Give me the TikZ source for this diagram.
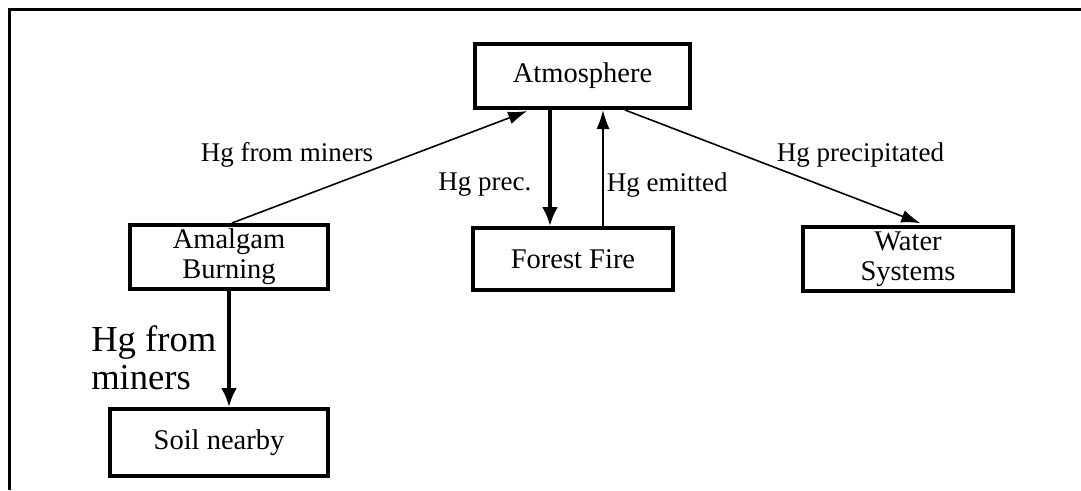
\documentclass[tikz,border=0pt]{standalone}
\usepackage{fontspec}
\setmainfont{Liberation Serif}
\usetikzlibrary{arrows.meta}

\begin{document}
\begin{tikzpicture}[x=1pt, y=-1pt, thick,
    main/.style = {draw, rectangle, line width=4pt, inner sep=0pt, align=center,
                   font=\fontsize{28.5}{30}\selectfont},
    flow/.style = {line width=1.6pt, -{Latex[length=19pt,width=13pt]}},
    heavy/.style = {line width=3.4pt, -{Latex[length=19pt,width=16pt]}},
    lab/.style = {font=\fontsize{27}{28}\selectfont, inner sep=1pt}]
        \useasboundingbox (0,0) rectangle (1081,490);
        \draw[line width=3pt] (1081,9.5) -- (9.7,9.5) -- (9.7,490);

        \node[main, minimum width=215pt, minimum height=64pt] (atm) at (582.5,76) {Atmosphere};
        \node[main, minimum width=200pt, minimum height=62pt] (fire) at (573,259) {Forest Fire};
        \node[main, minimum width=198pt, minimum height=64pt] (amal) at (229,257) {Amalgam\\Burning};
        \node[main, minimum width=210pt, minimum height=64pt] (water) at (908,259) {Water\\Systems};
        \node[main, minimum width=218pt, minimum height=67pt] (soil) at (219,442.5) {Soil nearby};

        \draw[flow, shorten >=3pt] ([xshift=3pt]amal.north) -- ([xshift=-52.5pt]atm.south)
            node [lab, pos=0.48, anchor=south east] {Hg from miners};
        \draw[heavy] ([xshift=-32.5pt]atm.south) -- ([xshift=-32.5pt]atm.south |- fire.north)
            node [lab, pos=0.64, left=16pt] {Hg prec.};
        \draw[flow] ([xshift=30pt]fire.north) -- ([xshift=30pt]fire.north |- atm.south)
            node [lab, pos=0.35, right=2pt] {Hg emitted};
        \draw[flow, shorten >=5pt] ([xshift=42.5pt]atm.south) -- ([xshift=17pt]water.north)
            node [lab, pos=0.5, anchor=south west, yshift=-2pt] {Hg precipitated};
        \draw[heavy] (amal.south) -- (amal.south |- soil.north)
            node [pos=0.58, left=11pt, align=left, font=\fontsize{36.6}{38}\selectfont, inner sep=0pt] {Hg from\\miners};

    \end{tikzpicture}
\end{document}
